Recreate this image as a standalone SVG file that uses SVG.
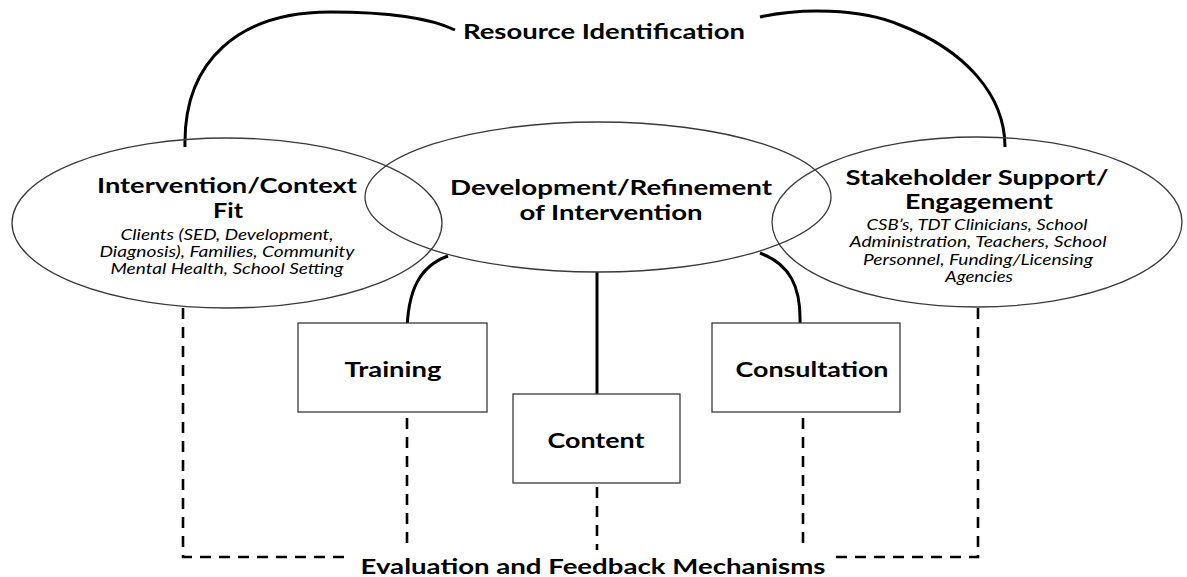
<svg xmlns="http://www.w3.org/2000/svg" width="1187" height="577" viewBox="0 0 1187 577">
<style>
.ell{fill:none;stroke:#3a3a3a;stroke-width:1.3}
.box{fill:#fff;stroke:#3a3a3a;stroke-width:1.3}
.solid{fill:none;stroke:#000;stroke-width:3}
.dash{fill:none;stroke:#000;stroke-width:2.6;stroke-dasharray:11 8}
.h{font-family:Lato,"Open Sans","Liberation Sans",sans-serif;font-weight:700;fill:#000;text-anchor:middle}
.s{font-family:Lato,"Open Sans","Liberation Sans",sans-serif;font-style:italic;fill:#000;text-anchor:middle;font-size:15px}
</style>
<g id="connectors">
<path class="solid" d="M185,147 C183,60 240,12 330,12 C390,12 430,18 455,30"/>
<path class="solid" d="M760,17 C800,8 860,8 900,25 C965,50 1005,95 1005,147"/>
<path class="solid" d="M407,335 C407,290 420,266 448,256"/>
<path class="solid" d="M597,272 L597,394"/>
<path class="solid" d="M800,323 C801,287 790,264 760,253"/>
<path class="dash" d="M183,308 L183,557 L345,557"/>
<path class="dash" d="M978,308 L978,557 L830,557"/>
<path class="dash" d="M407,418 L407,550"/>
<path class="dash" d="M597,487 L597,550"/>
<path class="dash" d="M803,418 L803,550"/>
</g>
<g id="intervention-context-fit">
<ellipse class="ell" cx="227" cy="223" rx="215" ry="85"/>
<text class="h" x="227" y="193" font-size="21" textLength="260" lengthAdjust="spacingAndGlyphs">Intervention/Context</text>
<text class="h" x="228" y="218" font-size="21" textLength="30" lengthAdjust="spacingAndGlyphs">Fit</text>
<text class="s" x="227" y="240" textLength="213" lengthAdjust="spacingAndGlyphs">Clients (SED, Development,</text>
<text class="s" x="227" y="257" textLength="255" lengthAdjust="spacingAndGlyphs">Diagnosis), Families, Community</text>
<text class="s" x="227" y="274" textLength="233" lengthAdjust="spacingAndGlyphs">Mental Health, School Setting</text>
</g>
<g id="development-refinement">
<ellipse class="ell" cx="598" cy="197" rx="233" ry="75"/>
<text class="h" x="611" y="195" font-size="21" textLength="322" lengthAdjust="spacingAndGlyphs">Development/Refinement</text>
<text class="h" x="611" y="220" font-size="21" textLength="183" lengthAdjust="spacingAndGlyphs">of Intervention</text>
</g>
<g id="stakeholder-support">
<ellipse class="ell" cx="977" cy="222" rx="205" ry="85"/>
<text class="h" x="977" y="185" font-size="21" textLength="263" lengthAdjust="spacingAndGlyphs">Stakeholder Support/</text>
<text class="h" x="979" y="209" font-size="21" textLength="148" lengthAdjust="spacingAndGlyphs">Engagement</text>
<text class="s" x="977" y="230" textLength="221" lengthAdjust="spacingAndGlyphs">CSB’s, TDT Clinicians, School</text>
<text class="s" x="978" y="247" textLength="257" lengthAdjust="spacingAndGlyphs">Administration, Teachers, School</text>
<text class="s" x="978" y="265" textLength="230" lengthAdjust="spacingAndGlyphs">Personnel, Funding/Licensing</text>
<text class="s" x="979" y="282" textLength="68" lengthAdjust="spacingAndGlyphs">Agencies</text>
</g>
<g id="training">
<rect class="box" x="298" y="323" width="189" height="89"/>
<text class="h" x="393" y="377" font-size="20" textLength="97" lengthAdjust="spacingAndGlyphs">Training</text>
</g>
<g id="content">
<rect class="box" x="513" y="394" width="167" height="89"/>
<text class="h" x="596" y="448" font-size="20" textLength="97" lengthAdjust="spacingAndGlyphs">Content</text>
</g>
<g id="consultation">
<rect class="box" x="712" y="323" width="188" height="89"/>
<text class="h" x="812" y="377" font-size="20" textLength="153" lengthAdjust="spacingAndGlyphs">Consultation</text>
</g>
<g id="resource-identification">
<text class="h" x="604" y="39" font-size="21" textLength="282" lengthAdjust="spacingAndGlyphs">Resource Identification</text>
</g>
<g id="evaluation-feedback">
<text class="h" x="593" y="574" font-size="21" textLength="465" lengthAdjust="spacingAndGlyphs">Evaluation and Feedback Mechanisms</text>
</g>
</svg>
